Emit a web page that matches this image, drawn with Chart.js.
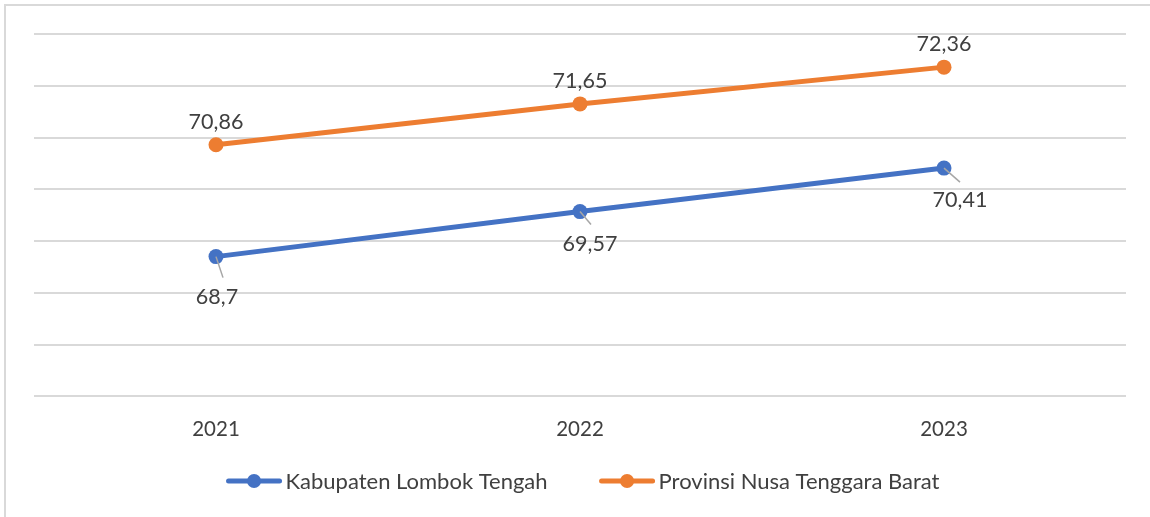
<!DOCTYPE html>
<html>
<head>
<meta charset="utf-8">
<script src="https://cdn.jsdelivr.net/npm/chart.js@4.4.1/dist/chart.umd.min.js"></script>
<style>
	html, body { margin: 0; padding: 0; background: #fff; }
	#wrap { width: 1150px; height: 517px; position: relative; }
</style>
</head>
<body>
<div id="wrap"><canvas id="chart"></canvas></div>
<script>
const years = ['2021', '2022', '2023']
const lombokTengah = [68.7, 69.57, 70.41]
const ntb = [70.86, 71.65, 72.36]
const seriesNames = ['Kabupaten Lombok Tengah', 'Provinsi Nusa Tenggara Barat']

const BLUE = '#4472C4'
const ORANGE = '#ED7D31'
const TEXT = '#404040'
const FONT = 'Lato, "Open Sans", sans-serif'

// label placement per dataset: offset of label centre from the point, and leader end
const labelPlacement = [
	{ label: [[1, 40], [10, 32], [16, 32]], leader: [[7, 21], [11, 13], [16, 14]] },
	{ label: [[0, -23], [0, -23], [0, -23]], leader: null }
]

function fmt(v) {
	return String(v).replace('.', ',')
}

const framePlugin = {
	id: 'frame',
	beforeDraw(chart) {
		const ctx = chart.ctx
		ctx.save()
		ctx.strokeStyle = '#d9d9d9'
		ctx.lineWidth = 2
		ctx.strokeRect(5, 5, chart.width + 10, chart.height + 10)
		ctx.restore()
	}
}

const valueLabels = {
	id: 'valueLabels',
	afterDatasetsDraw(chart) {
		const ctx = chart.ctx
		ctx.save()
		ctx.font = '21.5px ' + FONT
		ctx.fillStyle = TEXT
		ctx.textAlign = 'center'
		ctx.textBaseline = 'middle'
		chart.data.datasets.forEach((ds, i) => {
			const meta = chart.getDatasetMeta(i)
			const place = labelPlacement[i]
			meta.data.forEach((pt, j) => {
				if (place.leader) {
					ctx.strokeStyle = '#a6a6a6'
					ctx.lineWidth = 1.5
					ctx.beginPath()
					ctx.moveTo(pt.x, pt.y)
					ctx.lineTo(pt.x + place.leader[j][0], pt.y + place.leader[j][1])
					ctx.stroke()
				}
				ctx.fillText(fmt(ds.data[j]), pt.x + place.label[j][0], pt.y + place.label[j][1])
			})
		})
		ctx.restore()
	}
}

const bottomLegend = {
	id: 'bottomLegend',
	afterDraw(chart) {
		const ctx = chart.ctx
		const area = chart.chartArea
		ctx.save()
		ctx.font = '22px ' + FONT
		ctx.textBaseline = 'middle'
		ctx.textAlign = 'left'
		const lineLen = 55
		const textGap = 4
		const itemGap = 52
		const widths = chart.data.datasets.map(ds => lineLen + textGap + ctx.measureText(ds.label).width)
		const total = widths.reduce((a, b) => a + b, 0) + itemGap * (widths.length - 1)
		let x = (area.left + area.right) / 2 - total / 2 + 3
		const y = 481
		chart.data.datasets.forEach((ds, i) => {
			ctx.strokeStyle = ds.borderColor
			ctx.lineWidth = 5
			ctx.lineCap = 'round'
			ctx.beginPath()
			ctx.moveTo(x + 2, y)
			ctx.lineTo(x + lineLen - 2, y)
			ctx.stroke()
			ctx.fillStyle = ds.borderColor
			ctx.beginPath()
			ctx.arc(x + lineLen / 2, y, 7, 0, Math.PI * 2)
			ctx.fill()
			ctx.fillStyle = TEXT
			ctx.fillText(ds.label, x + lineLen + textGap, y + 1)
			x += widths[i] + itemGap
		})
		ctx.restore()
	}
}

new Chart(document.getElementById('chart'), {
	type: 'line',
	data: {
		labels: years,
		datasets: [
			{
				label: seriesNames[0],
				data: lombokTengah,
				borderColor: BLUE,
				backgroundColor: BLUE,
				borderWidth: 5,
				pointRadius: 7.5,
				pointBorderWidth: 0,
				pointBackgroundColor: BLUE,
				borderCapStyle: 'round'
			},
			{
				label: seriesNames[1],
				data: ntb,
				borderColor: ORANGE,
				backgroundColor: ORANGE,
				borderWidth: 5,
				pointRadius: 7.5,
				pointBorderWidth: 0,
				pointBackgroundColor: ORANGE,
				borderCapStyle: 'round'
			}
		]
	},
	options: {
		responsive: true,
		maintainAspectRatio: false,
		animation: false,
		layout: {
			padding: { left: 34, right: 24, top: 34, bottom: 62 }
		},
		plugins: {
			legend: { display: false },
			tooltip: { enabled: false }
		},
		scales: {
			x: {
				offset: true,
				grid: { display: false },
				border: { display: false },
				ticks: {
					color: TEXT,
					font: { family: FONT, size: 20.5 },
					padding: 13
				}
			},
			y: {
				min: 66,
				max: 73,
				ticks: { display: false, stepSize: 1 },
				border: { display: false },
				grid: { color: '#d9d9d9', lineWidth: 2, drawTicks: false }
			}
		}
	},
	plugins: [framePlugin, valueLabels, bottomLegend]
})
</script>
</body>
</html>
